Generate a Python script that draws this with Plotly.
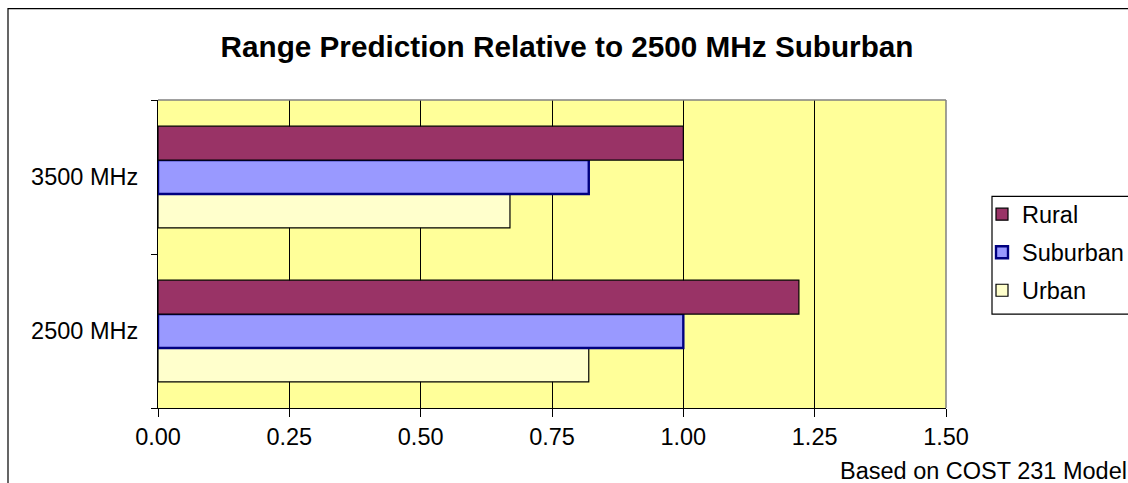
import plotly.graph_objects as go

# Frequency bands (bottom to top on the category axis)
bands = ["2500 MHz", "3500 MHz"]

# Relative range per environment, ordered as in `bands`
rural = [1.22, 1.00]
suburban = [1.00, 0.82]
urban = [0.82, 0.67]

title_text = "Range Prediction Relative to 2500 MHz Suburban"
note_text = "Based on COST 231 Model"

W, H = 1128, 483
L, R, T, B = 158, 946, 99.5, 408  # plot-area edges in pixels

FONT = "Liberation Sans, Arial, sans-serif"
TXT = 23.5


def px_x(p):
    return (p - L) / (R - L)


def px_y(p):
    return (B - p) / (B - T)


fig = go.Figure()

# Within a group the first trace sits lowest, so Urban goes first
fig.add_trace(go.Bar(
    y=bands, x=urban, name="Urban", orientation="h",
    marker=dict(color="#FFFFCC", line=dict(color="#000000", width=1.2)),
    legendgroup="u", legendrank=3,
))
fig.add_trace(go.Bar(
    y=bands, x=suburban, name="Suburban", orientation="h",
    marker=dict(color="#9999FF", line=dict(color="#000080", width=2.4)),
    legendgroup="s", legendrank=2,
))
fig.add_trace(go.Bar(
    y=bands, x=rural, name="Rural", orientation="h",
    marker=dict(color="#993366", line=dict(color="#000000", width=1.2)),
    legendgroup="r", legendrank=1,
))

shapes = [
    # outer chart frame (open at right and bottom edges of the page)
    dict(type="rect", xref="paper", yref="paper",
         x0=px_x(8), x1=px_x(W + 20), y0=px_y(H + 20), y1=px_y(8),
         line=dict(color="#000000", width=1.2), layer="below"),
    # plot-area frame, top and right in grey
    dict(type="line", xref="paper", yref="paper",
         x0=0, x1=1, y0=1, y1=1, line=dict(color="#808080", width=1.5)),
    dict(type="line", xref="paper", yref="paper",
         x0=1, x1=1, y0=0, y1=1, line=dict(color="#808080", width=1.5)),
    # legend box
    dict(type="rect", xref="paper", yref="paper",
         x0=px_x(992), x1=px_x(W + 20), y0=px_y(314), y1=px_y(196),
         line=dict(color="#000000", width=1.2), fillcolor="white",
         layer="below"),
]

fig.update_layout(
    width=W, height=H, autosize=False,
    margin=dict(l=L, r=W - R, t=T, b=H - B, pad=0, autoexpand=False),
    paper_bgcolor="white",
    plot_bgcolor="#FFFF99",
    font=dict(family=FONT, size=TXT, color="#000000"),
    barmode="group",
    bargap=0.34,
    bargroupgap=0,
    title=dict(
        text=f"<b>{title_text}</b>",
        x=px_x(567), xref="paper", xanchor="center",
        y=1 - 47 / H, yref="container", yanchor="middle",
        font=dict(family=FONT, size=29.7, color="#000000"),
    ),
    xaxis=dict(
        range=[0, 1.5], dtick=0.25, tick0=0, tickformat=".2f",
        showgrid=True, gridcolor="#000000", gridwidth=1,
        showline=True, linecolor="#000000", linewidth=1.2,
        ticks="outside", ticklen=8, tickcolor="#000000",
        zeroline=False, fixedrange=True,
        tickfont=dict(size=TXT),
    ),
    yaxis=dict(
        categoryorder="array", categoryarray=bands,
        showline=True, linecolor="#000000", linewidth=1.2,
        ticks="outside", ticklen=6, tickcolor="#000000",
        tickson="boundaries", showgrid=False, zeroline=False,
        ticklabelstandoff=14, fixedrange=True,
        tickfont=dict(size=TXT),
    ),
    legend=dict(
        traceorder="grouped", tracegroupgap=4.5,
        x=px_x(982), xanchor="left",
        y=px_y(192), yanchor="top",
        bgcolor="rgba(0,0,0,0)", borderwidth=0,
        font=dict(size=TXT),
    ),
    shapes=shapes,
    annotations=[
        dict(text=note_text, xref="paper", yref="paper",
             x=px_x(1129), y=px_y(471), xanchor="right", yanchor="middle",
             showarrow=False, font=dict(size=TXT)),
    ],
)

fig.write_html("out.html")
